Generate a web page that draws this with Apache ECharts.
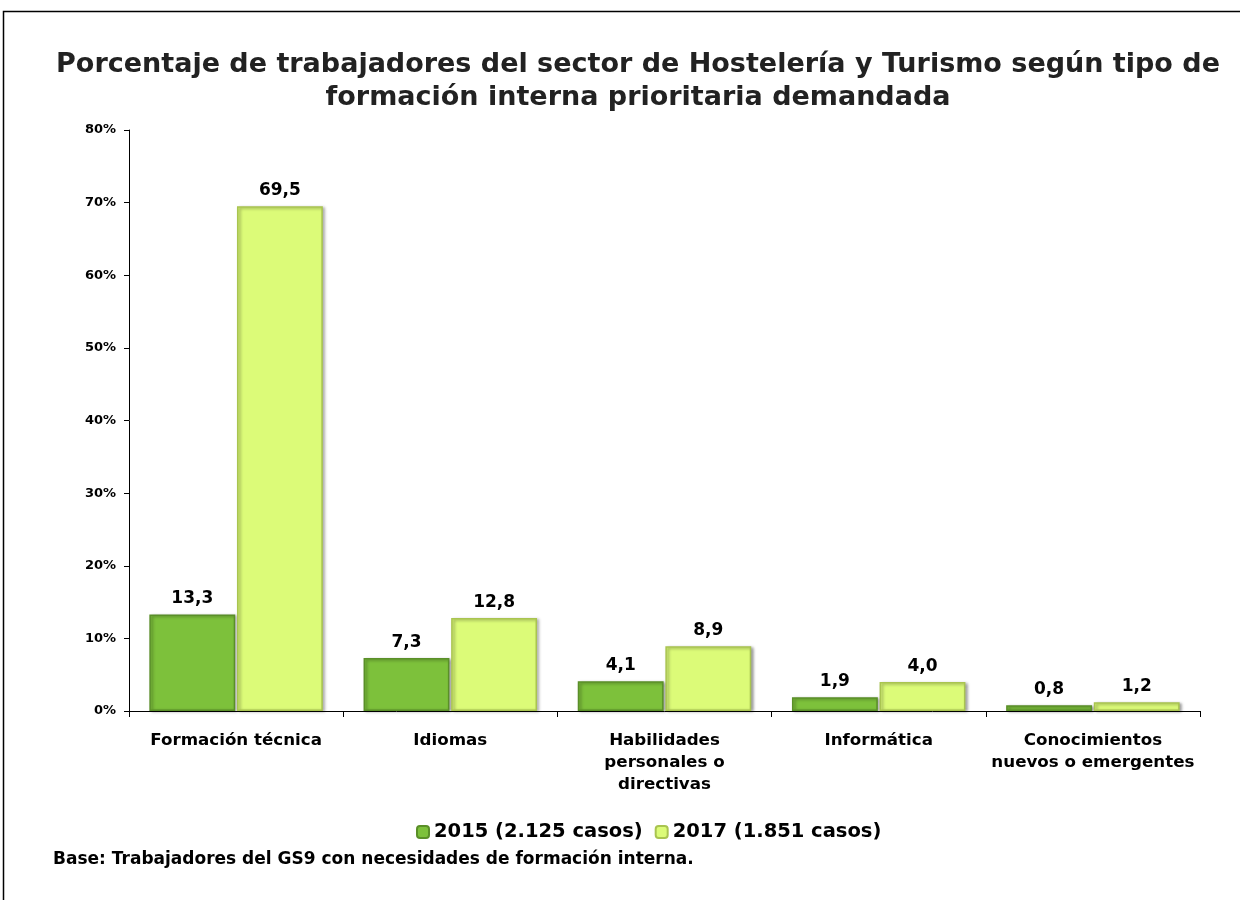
<!DOCTYPE html>
<html><head><meta charset="utf-8">
<script src="https://cdn.jsdelivr.net/npm/echarts@6/dist/echarts.min.js"></script>
<style>html,body{margin:0;padding:0;background:#fff}#c{width:1240px;height:900px}</style>
</head><body><div id="c"></div>
<script>
const categories = ['Formación técnica', 'Idiomas', 'Habilidades\npersonales o\ndirectivas', 'Informática', 'Conocimientos\nnuevos o emergentes'];
const series2015 = [13.3, 7.3, 4.1, 1.9, 0.8];
const series2017 = [69.5, 12.8, 8.9, 4.0, 1.2];
const seriesNames = ['2015 (2.125 casos)', '2017 (1.851 casos)'];
const yTicks = [0, 10, 20, 30, 40, 50, 60, 70, 80];
const titleText = 'Porcentaje de trabajadores del sector de Hostelería y Turismo según tipo de\nformación interna prioritaria demandada';
const footText = 'Base: Trabajadores del GS9 con necesidades de formación interna.';

const FONT = 'DejaVu Sans';
const chart = echarts.init(document.getElementById('c'), null, {renderer: 'canvas'});
const lbl = {
  show: true, position: 'top', distance: 7, color: '#000',
  fontFamily: FONT, fontWeight: 'bold', fontSize: 17,
  formatter: p => p.value.toFixed(1).replace('.', ',')
};
chart.setOption({
  animation: false,
  title: {
    text: titleText, left: 633, top: 43, textAlign: 'center',
    textStyle: {fontFamily: FONT, fontWeight: 'bold', fontSize: 27, lineHeight: 33, color: '#222'}
  },
  graphic: [
    {type: 'rect', shape: {x: 3.5, y: 11.5, width: 1400, height: 1000}, style: {fill: 'none', stroke: '#000', lineWidth: 1.5}, silent: true},
    {type: 'text', left: 53, top: 851, style: {text: footText, fontFamily: FONT, fontWeight: 'bold', fontSize: 17, fill: '#000'}}
  ],
  legend: {
    top: 817, left: 411, itemWidth: 12, itemHeight: 12, itemGap: 12,
    textStyle: {fontFamily: FONT, fontWeight: 'bold', fontSize: 19.5, color: '#000'},
    data: seriesNames
  },
  grid: {left: 129, right: 40, top: 130, bottom: 189},
  xAxis: {
    type: 'category', data: categories,
    axisLine: {lineStyle: {color: '#000', width: 1}},
    axisTick: {show: true, length: 6, lineStyle: {color: '#000'}},
    axisLabel: {interval: 0, fontFamily: FONT, fontWeight: 'bold', fontSize: 16.7, color: '#000', lineHeight: 22, margin: 19}
  },
  yAxis: {
    type: 'value', min: 0, max: 80, interval: 10,
    axisLine: {show: true, lineStyle: {color: '#000'}},
    axisTick: {show: true, length: 5, lineStyle: {color: '#000'}},
    splitLine: {show: false},
    axisLabel: {fontFamily: FONT, fontWeight: 'bold', fontSize: 13, color: '#000', margin: 13,
      formatter: v => yTicks.includes(v) ? v + '%' : ''}
  },
  series: [
    {name: seriesNames[0], type: 'bar', data: series2015, barGap: '2%', barCategoryGap: '19%',
      itemStyle: {color: '#7dc13b', borderColor: '#5a8f28', borderWidth: 1.5,
        shadowColor: 'rgba(0,0,0,0.35)', shadowBlur: 3, shadowOffsetX: 2, shadowOffsetY: 1},
      label: lbl},
    {name: seriesNames[1], type: 'bar', data: series2017,
      itemStyle: {color: '#dcfb78', borderColor: '#a9c450', borderWidth: 1.5,
        shadowColor: 'rgba(0,0,0,0.35)', shadowBlur: 3, shadowOffsetX: 2, shadowOffsetY: 1},
      label: lbl}
  ]
});
</script></body></html>
